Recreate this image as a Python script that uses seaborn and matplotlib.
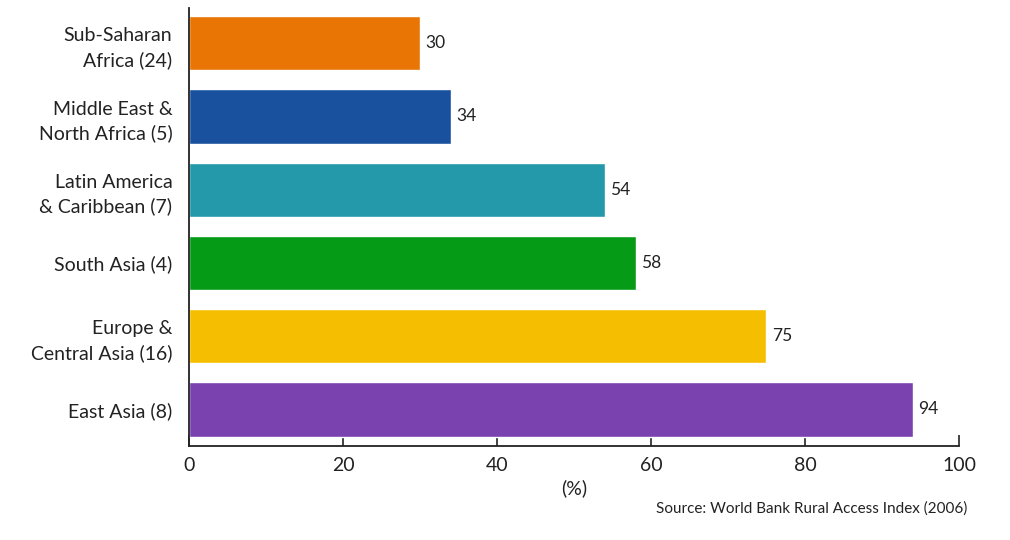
import pandas as pd
import matplotlib.pyplot as plt
import seaborn as sns

# data
regions = ["Sub-Saharan\nAfrica (24)", "Middle East &\nNorth Africa (5)",
           "Latin America\n& Caribbean (7)", "South Asia (4)",
           "Europe &\nCentral Asia (16)", "East Asia (8)"]
access = [30, 34, 54, 58, 75, 94]
colors = ["#E87504", "#1A519E", "#2399AA", "#069B17", "#F5BE00", "#7A42AF"]
xticks = [0, 20, 40, 60, 80, 100]

df = pd.DataFrame({"region": regions, "access": access})

sns.set_style("white")
plt.rcParams["font.family"] = ["Lato", "DejaVu Sans"]

fig = plt.figure(figsize=(10.1, 5.4), dpi=100)
ax = fig.add_axes([0.1871, 0.174, 0.7624, 0.811])

sns.barplot(data=df, x="access", y="region", hue="region", palette=colors,
            width=0.74, legend=False, ax=ax, saturation=1)

for i, v in enumerate(access):
    ax.text(v + 0.7, i, str(v), va="center", ha="left", fontsize=12.5, color="#222222")

ax.set_xlim(0, 100)
ax.set_ylim(5.5, -0.48)
ax.set_xticks(xticks)
ax.set_xticklabels([str(t) for t in xticks], fontsize=14, color="#222222")
ax.set_yticks(range(len(regions)))
ax.set_yticklabels(regions, fontsize=14, color="#222222")
plt.setp(ax.get_yticklabels(), linespacing=1.45)
ax.tick_params(axis="x", bottom=True, direction="in", length=8, width=1.2,
               color="#222222", pad=8)
ax.tick_params(axis="y", left=False, length=0, pad=12)
ax.set_xlabel("(%)", fontsize=14, color="#222222", labelpad=4)
ax.set_ylabel("")

for s in ["top", "right"]:
    ax.spines[s].set_visible(False)
for s in ["left", "bottom"]:
    ax.spines[s].set_color("#222222")
    ax.spines[s].set_linewidth(1.3)

fig.text(0.958, 0.045, "Source: World Bank Rural Access Index (2006)",
         ha="right", va="bottom", fontsize=11, color="#222222")

fig.savefig("out.png", dpi=100)
